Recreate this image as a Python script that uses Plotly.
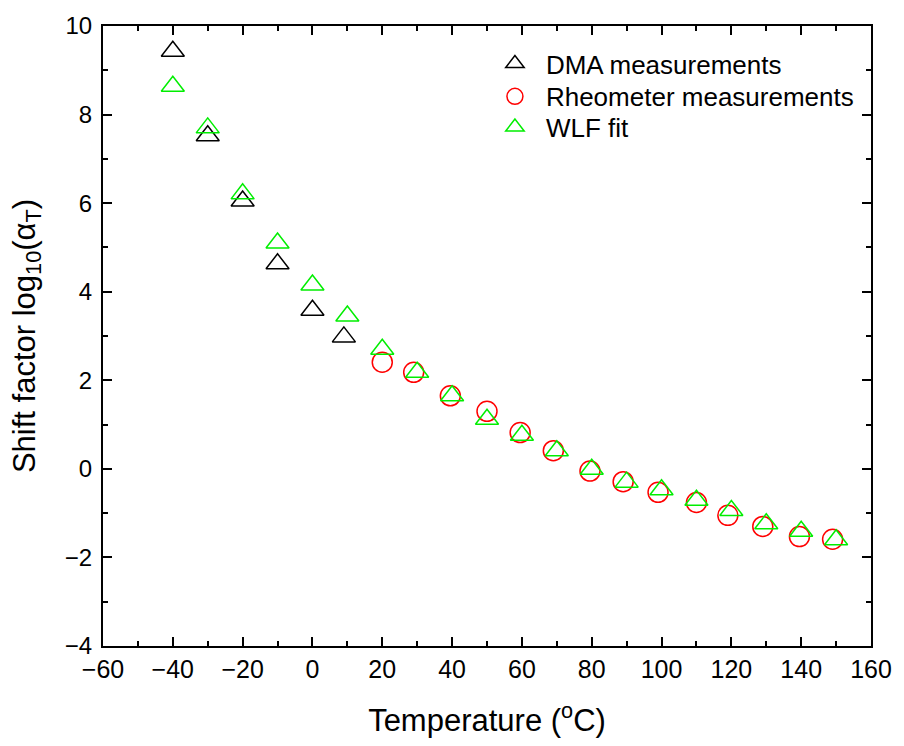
import plotly.graph_objects as go

# ---- data ----
dma_T = [-40, -30, -20, -10, 0, 9]
dma_v = [9.43, 7.52, 6.05, 4.63, 3.58, 2.98]

rheo_T = [20, 29, 39.5, 50, 59.5, 69, 79.5, 89, 99, 110, 119, 129, 139.5, 149]
rheo_v = [2.41, 2.18, 1.65, 1.30, 0.82, 0.41, -0.05, -0.29, -0.53, -0.76, -1.05, -1.30, -1.53, -1.59]

wlf_T = [-40, -30, -20, -10, 0, 10, 20, 30, 40, 50, 60, 70, 80, 90, 100, 110, 120, 130, 140, 150]
wlf_v = [8.64, 7.70, 6.21, 5.10, 4.15, 3.45, 2.70, 2.18, 1.65, 1.12, 0.76, 0.41, -0.01, -0.30,
         -0.47, -0.71, -0.94, -1.24, -1.41, -1.60]

x_title = "Temperature (<sup>o</sup>C)"
y_title = "Shift factor log<sub>10</sub>(α<sub>T</sub>)"

FONT = "Liberation Sans, Arial, sans-serif"
GREEN = "#00ee00"

fig = go.Figure()
fig.add_trace(go.Scatter(
    x=dma_T, y=dma_v, mode="markers", name="DMA measurements", legend="legend",
    marker=dict(symbol="triangle-up-open", size=20, color="black", line=dict(width=1.5, color="black")),
))
fig.add_trace(go.Scatter(
    x=rheo_T, y=rheo_v, mode="markers", name="Rheometer measurements", legend="legend2",
    marker=dict(symbol="circle-open", size=20, color="red", line=dict(width=1.5, color="red")),
))
fig.add_trace(go.Scatter(
    x=wlf_T, y=wlf_v, mode="markers", name="WLF fit", legend="legend3",
    marker=dict(symbol="triangle-up-open", size=20, color=GREEN, line=dict(width=1.5, color=GREEN)),
))

axis_common = dict(
    showline=True, linecolor="black", linewidth=2, mirror="ticks",
    ticks="inside", ticklen=9, tickwidth=2, tickcolor="black",
    showgrid=False, zeroline=False,
)

fig.update_xaxes(
    range=[-60, 160], dtick=20, tick0=0,
    tickfont=dict(family=FONT, size=25, color="black"),
    minor=dict(ticks="inside", dtick=10, ticklen=5, tickwidth=2, tickcolor="black", showgrid=False),
    title=dict(text=x_title, font=dict(family=FONT, size=31, color="black"), standoff=27),
    **axis_common,
)
fig.update_yaxes(
    range=[-4, 10], dtick=2, tick0=0,
    tickfont=dict(family=FONT, size=24, color="black"),
    ticklabelstandoff=4,
    minor=dict(ticks="inside", dtick=1, ticklen=5, tickwidth=2, tickcolor="black", showgrid=False),
    title=dict(text=y_title, font=dict(family=FONT, size=31, color="black"), standoff=20),
    **axis_common,
)

# Three single-item legends, one per row, so each row sits where the reference puts it
PLOT_TOP, PLOT_H = 21, 625
def paper_y(py):
    return 1 - (py - PLOT_TOP) / PLOT_H

leg_common = dict(
    x=0.496, xanchor="left", yanchor="middle",
    bgcolor="rgba(0,0,0,0)", borderwidth=0,
    font=dict(family=FONT, size=26, color="black"),
    itemwidth=52,
)

fig.update_layout(
    width=904, height=746,
    margin=dict(l=103, r=27, t=21, b=100),
    paper_bgcolor="white", plot_bgcolor="white",
    showlegend=True,
    legend=dict(y=paper_y(59), **leg_common),
    legend2=dict(y=paper_y(92), **leg_common),
    legend3=dict(y=paper_y(123), **leg_common),
)

fig.write_html("out.html")
